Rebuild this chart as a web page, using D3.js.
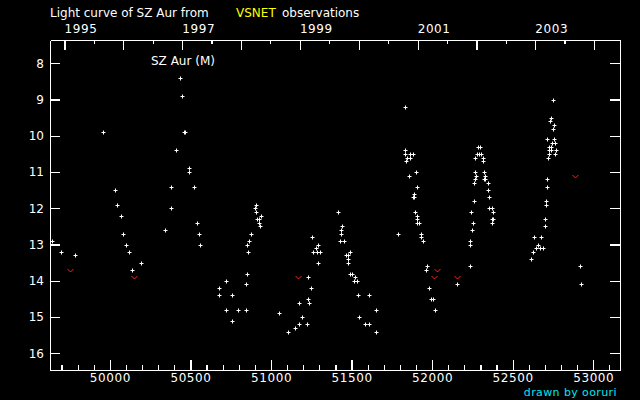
<!DOCTYPE html>
<html><head><meta charset="utf-8">
<script src="https://cdn.jsdelivr.net/npm/d3@7"></script>
<style>
html,body{margin:0;padding:0;background:#000;}
svg{display:block;background:#000;}
text{font-family:"DejaVu Sans",sans-serif;}
</style></head>
<body>
<svg id="c" width="640" height="400"></svg>
<script>
// Positive observations (MJD, visual magnitude)
const obsMJD = [49640,49698,49785,49958,50033,50045,50070,50083,50101,50120,50138,50194,50343,50380,50380,50412,50436,50449,50459,50467,50492,50492,50523,50542,50554,50560,
50678,50678,50722,50722,50759,50759,50796,50846,50846,50852,50858,50852,50865,50877,50902,50908,50908,50939,50914,50927,50927,50933,
51051,51107,51150,51175,51225,51194,51175,51231,51237,51249,51231,51256,51293,51280,51262,51287,51305,51293,
51417,51442,51436,51436,51429,51454,51492,51467,51479,51479,51479,51492,51504,51523,51516,51535,51541,51609,51653,51547,51585,51609,51653,
51789,51833,51833,51833,51864,51883,51845,51864,51839,51858,51901,51907,51889,51883,51889,51895,51907,51907,51907,51920,51932,51932,51945,51969,51963,51982,51994,52007,52019,
52156,52236,52236,52236,52249,52255,52243,52261,52261,52267,52267,52274,52267,52280,52292,52305,52286,52298,52317,52317,52323,52329,52323,52329,52348,52348,52354,52354,52373,52379,52379,52373,52373,
52615,52627,52646,52671,52690,52658,52634,52677,52702,52702,52708,52708,52714,52714,52721,52727,52764,52727,52739,52770,52727,52739,52745,52764,52714,52758,52752,52758,52733,52739,52752,
52919,52925];
const obsMag = [12.9,13.2,13.3,9.9,11.5,11.9,12.2,12.7,13.0,13.2,13.7,13.5,12.6,12.0,11.4,10.4,8.4,8.9,9.9,9.9,10.9,11.0,11.4,12.4,12.7,13.0,
14.2,14.4,14.0,14.8,14.4,15.1,14.8,14.8,14.1,13.8,13.2,13.0,12.9,12.7,12.0,11.9,12.1,12.2,12.3,12.3,12.4,12.5,
14.9,15.4,15.3,15.2,15.2,15.0,14.6,14.5,14.6,14.2,13.9,12.8,13.0,13.1,13.2,13.2,13.2,13.5,
12.1,12.5,12.6,12.7,12.9,12.9,13.2,13.3,13.3,13.4,13.5,13.8,13.8,13.9,14.0,14.0,14.4,14.4,14.8,15.0,15.2,15.2,15.4,
12.7,9.2,10.4,10.5,10.5,10.5,10.6,10.6,10.7,11.1,11.0,11.4,11.6,11.7,11.7,12.1,12.2,12.3,12.4,12.4,12.7,12.8,12.9,13.6,13.7,14.2,14.5,14.5,14.8,
14.1,13.6,12.9,13.0,12.6,12.4,12.1,11.8,11.3,11.2,11.0,11.1,10.6,10.5,10.5,10.5,10.3,10.3,10.6,10.7,11.0,11.1,11.2,11.2,11.3,11.5,11.7,12.0,12.0,12.1,12.3,12.3,12.4,
13.4,13.2,13.1,13.1,13.1,13.0,12.8,12.8,12.5,12.3,11.9,11.8,11.4,11.2,10.6,10.5,10.5,10.4,10.4,10.4,10.3,10.3,10.2,10.2,10.1,10.1,9.8,9.7,9.6,9.5,9.0,
13.6,14.1];
// Negative ("fainter than") observations
const limitMJD = [49754,50151,51169,52032,52013,52156,52888];
const limitMag = [13.7,13.9,13.9,13.7,13.9,13.9,11.1];
// Tick values
const magTicks = [8,9,10,11,12,13,14,15,16];
const mjdMajor = [50000,50500,51000,51500,52000,52500,53000];
const mjdMinor = [49700,49800,49900,50100,50200,50300,50400,50600,50700,50800,50900,51100,51200,51300,51400,51600,51700,51800,51900,52100,52200,52300,52400,52600,52700,52800,52900,53100];
const yearStartMJD = [49718,50083,50449,50814,51179,51544,51910,52275,52640,53005];
const yearMidMJD = [49899,50265,50630,50995,51360,51726,52091,52456,52821];
const yearLabels = ["1995","1997","1999","2001","2003"];
const yearLabelMJD = [49718,50449,51179,51910,52640];

const svg = d3.select("#c");
const L=50,R=620,T=40,B=370;
const x = d3.scaleLinear().domain([49628,53166]).range([L,R]);
const y = d3.scaleLinear().domain([7.356,16.46]).range([T,B]);

function style(g){
  g.selectAll("path,line").attr("stroke","#fff").attr("stroke-width",1.2).attr("shape-rendering","crispEdges");
  g.selectAll("text").attr("fill","#fff").attr("font-family","DejaVu Sans").attr("font-size",12);
}
// bottom axis
svg.append("g").attr("transform",`translate(0,${B})`)
  .call(d3.axisBottom(x).tickValues(mjdMajor).tickSize(-10).tickSizeOuter(0).tickPadding(3).tickFormat(d3.format("d")))
  .call(style).call(g=>g.selectAll("text").attr("letter-spacing","0.6px"));
svg.append("g").attr("transform",`translate(0,${B})`)
  .call(d3.axisBottom(x).tickValues(mjdMinor).tickSize(-5).tickSizeOuter(0).tickFormat(""))
  .call(style).call(g=>g.select(".domain").remove());
// top axis
svg.append("g").attr("transform",`translate(0,${T})`)
  .call(d3.axisTop(x).tickValues(yearStartMJD).tickSize(-10).tickSizeOuter(0).tickFormat(""))
  .call(style);
svg.append("g").attr("transform",`translate(0,${T})`)
  .call(d3.axisTop(x).tickValues(yearMidMJD).tickSize(-4).tickSizeOuter(0).tickFormat(""))
  .call(style).call(g=>g.select(".domain").remove());
svg.append("g").selectAll("text").data(yearLabels).join("text")
  .attr("x",(d,i)=>x(yearLabelMJD[i])).attr("y",33)
  .attr("fill","#fff").attr("font-size",12).attr("letter-spacing","0.6px").text(d=>d);
// left / right axes
svg.append("g").attr("transform",`translate(${L},0)`)
  .call(d3.axisLeft(y).tickValues(magTicks).tickSize(-10).tickSizeOuter(0).tickPadding(6).tickFormat(d3.format("d")))
  .call(style);
svg.append("g").attr("transform",`translate(${R},0)`)
  .call(d3.axisRight(y).tickValues(magTicks).tickSize(-10).tickSizeOuter(0).tickFormat(""))
  .call(style);

// observations: white plus
const plot = svg.append("g");
plot.selectAll("path.obs").data(obsMJD).join("path").attr("class","obs")
  .attr("d",(d,i)=>{const px=Math.round(x(d))+0.5, py=Math.round(y(obsMag[i]))+0.5;
     return `M${px-2},${py}H${px+2}M${px},${py-2}V${py+2}`;})
  .attr("stroke","#fff").attr("stroke-width",1).attr("fill","none");
// fainter-than: red v
plot.selectAll("path.lim").data(limitMJD).join("path").attr("class","lim")
  .attr("d",(d,i)=>{const px=Math.round(x(d))+0.5, py=Math.round(y(limitMag[i]))+0.5;
     return `M${px-3},${py-1.5}L${px},${py+1.5}L${px+3},${py-1.5}`;})
  .attr("stroke","#ff2020").attr("stroke-width",1).attr("fill","none");

// texts
const title = svg.append("text").attr("x",50).attr("y",17).attr("font-size",12).attr("fill","#fff");
title.append("tspan").text("Light curve of SZ Aur from");
title.append("tspan").attr("x",236).attr("fill","#ffff00").text("VSNET");
title.append("tspan").attr("x",282).text("observations");
svg.append("text").attr("x",151).attr("y",65).attr("font-size",12).attr("fill","#fff").text("SZ Aur (M)");
svg.append("text").attr("x",617).attr("y",395.5).attr("text-anchor","end").attr("font-size",11).attr("letter-spacing","0.4px").attr("fill","#00e8f0").text("drawn by ooruri");
</script>
</body></html>
